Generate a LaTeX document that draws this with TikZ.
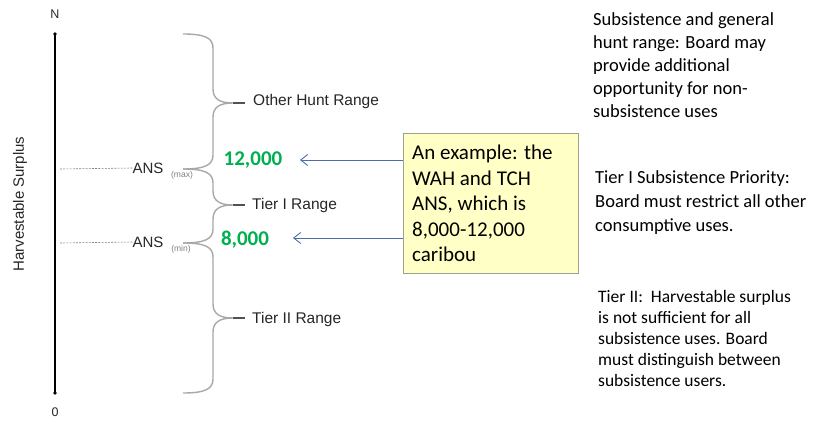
\documentclass[tikz,border=0pt]{standalone}
\usepackage{fontspec}
\setmainfont{Carlito}
\newfontfamily\arial{Liberation Sans}
\usetikzlibrary{arrows.meta}
\definecolor{bracegray}{HTML}{A8A8A8}
\definecolor{labgray}{HTML}{262626}
\definecolor{numgreen}{HTML}{00B050}
\definecolor{arrblue}{HTML}{4A6FA8}
\definecolor{boxfill}{HTML}{FFFFC6}
\definecolor{boxline}{HTML}{A0A090}
\newcommand\mybrace[3]{%
  \draw[bracestyle] (183,#1) .. controls (205,#1) and (213,{#1+4}) .. (213,{#1+14})
    -- (213,{#3-14}) .. controls (213,{#3-4}) and (220,#3) .. (233,#3)
    .. controls (220,#3) and (213,{#3+4}) .. (213,{#3+14})
    -- (213,{#2-14}) .. controls (213,{#2-4}) and (205,#2) .. (183,#2);}
\begin{document}
\begin{tikzpicture}[x=1pt,y=-1pt,
  bracestyle/.style={draw=bracegray,line width=1.4pt},
  rangelab/.style={font=\arial\fontsize{15.5}{18}\selectfont,text=labgray,anchor=west,inner sep=0pt},
  anslab/.style={font=\arial\fontsize{15}{18}\selectfont,text=labgray,inner sep=0pt},
  sublab/.style={font=\arial\fontsize{8.5}{10}\selectfont,text=gray,inner sep=0pt},
  numlab/.style={font=\bfseries\fontsize{21}{24}\selectfont,text=numgreen,inner sep=0pt},
  tick/.style={draw=labgray!80,line width=1.2pt},
  guide/.style={draw=gray,line width=0.6pt,dash pattern=on 2pt off 1.2pt},
  arr/.style={draw=arrblue,line width=0.9pt,-{Straight Barb[length=7pt,width=11pt]}},
  note/.style={anchor=north west,inner sep=0pt,align=left,text=black},
  axislab/.style={font=\arial\fontsize{12.5}{14}\selectfont,text=labgray,inner sep=0pt}
]
\useasboundingbox (0,0) rectangle (815,438);
% axis
\coordinate (top) at (55,34);
\coordinate (bot) at (55,393);
\draw[line width=1.8pt] (top) -- (bot);
\fill (top) circle (1.8pt);
\fill (bot) circle (1.8pt);
\node[axislab] (N) at (55,14) {N};
\node[axislab] (zero) at (55,412) {0};
\node[font=\arial\fontsize{15}{18}\selectfont,text=labgray,rotate=90] (hs) at (20,204) {Harvestable Surplus};
% ANS labels
\node[anslab] (ansmax) at (148,168) {ANS};
\node[sublab] (maxsub) at (182,175) {(max)};
\node[anslab] (ansmin) at (148,242) {ANS};
\node[sublab] (minsub) at (181,249) {(min)};
\coordinate (gmax) at (60,169);
\coordinate (gmin) at (60,243);
\draw[guide] (gmax) -- (ansmax.west);
\draw[guide] (gmin) -- (ansmin.west);
% braces
\mybrace{34}{169}{103}
\mybrace{169}{243}{205}
\mybrace{243}{393}{318}
% range labels
\coordinate (tipA) at (233,103);
\coordinate (tipB) at (233,205);
\coordinate (tipC) at (233,318);
\coordinate (endA) at (245,103);
\coordinate (endB) at (245,205);
\coordinate (endC) at (245,318);
\draw[tick] (tipA) -- (endA);
\draw[tick] (tipB) -- (endB);
\draw[tick] (tipC) -- (endC);
\node[rangelab] (other) at (253,101) {Other Hunt Range};
\node[rangelab] (tier1) at (252,205) {Tier I Range};
\node[rangelab] (tier2) at (252,319) {Tier II Range};
% numbers
\node[numlab] (n12) at (253,160) {12,000};
\node[numlab] (n8) at (245,240) {8,000};
% example box
\node[draw=boxline,fill=boxfill,line width=0.8pt,minimum width=175pt,minimum height=140pt,inner sep=0pt] (box) at (490.5,203) {};
\node[note,font=\fontsize{21}{25.5}\selectfont] (boxtext) at (412,145) {An example: the\\WAH and TCH\\ANS, which is\\8,000-12,000\\caribou};
\coordinate (a12) at (300,160);
\coordinate (a8) at (293,238);
\draw[arr] (box.west |- a12) -- (a12);
\draw[arr] (box.west |- a8) -- (a8);
% notes
\node[note,font=\fontsize{18.5}{23}\selectfont] (note1) at (593,12) {Subsistence and general\\hunt range: Board may\\provide additional\\opportunity for non-\\subsistence uses};
\node[note,font=\fontsize{18.5}{24}\selectfont] (note2) at (595,170) {Tier I Subsistence Priority:\\Board must restrict all other\\consumptive uses.};
\node[note,font=\fontsize{17.5}{21}\selectfont] (note3) at (598,290) {Tier II:\ \ Harvestable surplus\\is not sufficient for all\\subsistence uses. Board\\must distinguish between\\subsistence users.};
\end{tikzpicture}
\end{document}
